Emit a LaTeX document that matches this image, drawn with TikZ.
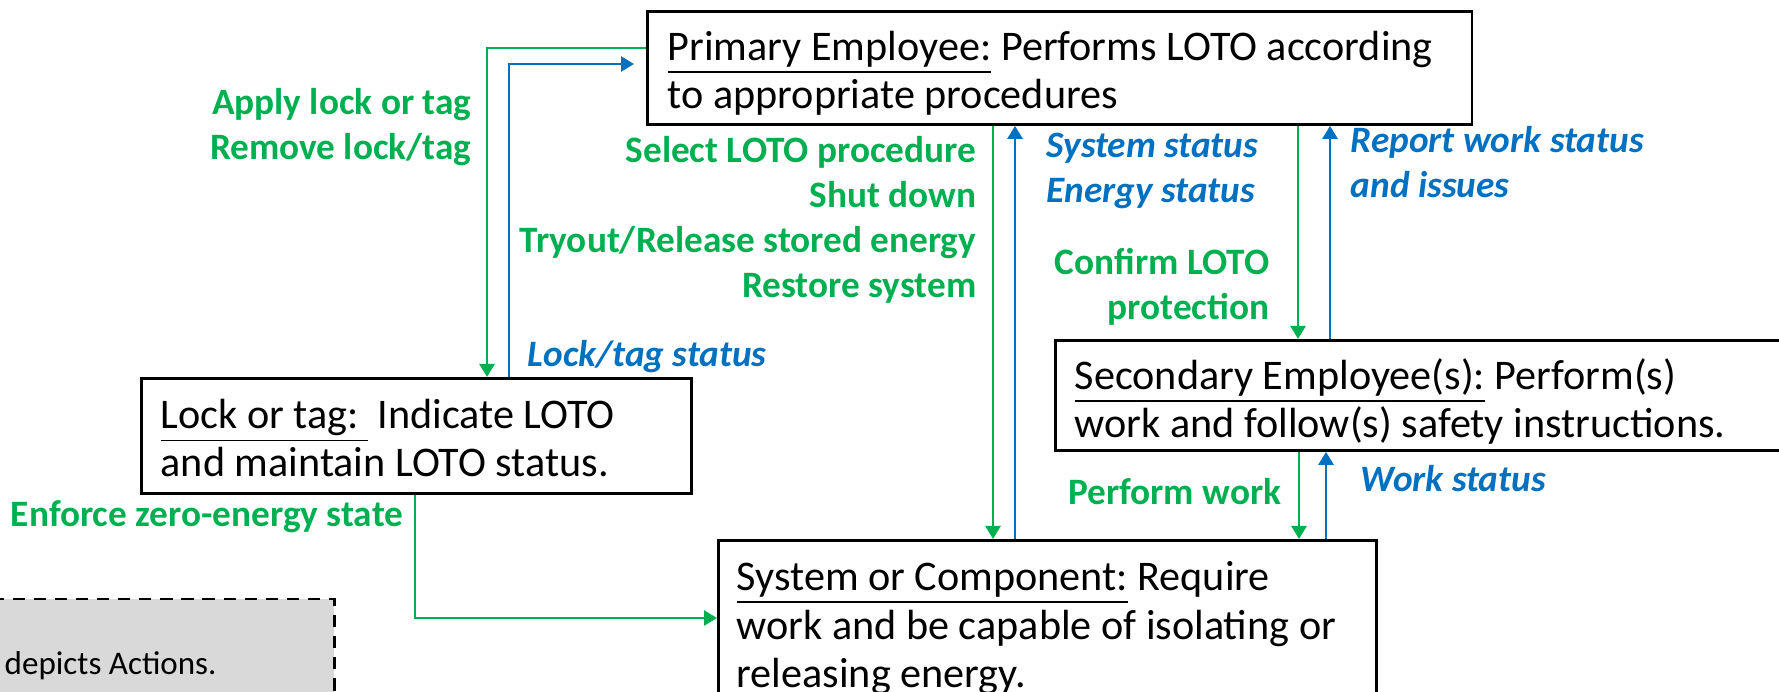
\documentclass[tikz,border=0pt]{standalone}
\usepackage{fontspec}
\setmainfont{Carlito}
\usetikzlibrary{arrows.meta,calc}
\definecolor{ActGreen}{HTML}{00B050}
\definecolor{InfoBlue}{HTML}{0070C0}
\definecolor{KeyGray}{HTML}{D9D9D9}

\newcommand{\boxfont}{\fontsize{12}{13.9}\selectfont}
\newcommand{\labfont}{\fontsize{10.6}{12.8}\selectfont\bfseries}

\begin{document}
\begin{tikzpicture}[x=0.01cm,y=-0.01cm,
    actor/.style={draw,line width=0.8pt,rectangle,inner sep=0pt,anchor=north west},
    actortext/.style={anchor=base west,align=left,inner sep=0pt,font=\boxfont},
    act/.style={ActGreen,line width=0.75pt,-{Triangle[length=1.3mm,width=1.5mm]}},
    info/.style={InfoBlue,line width=0.75pt,-{Triangle[length=1.3mm,width=1.5mm]}},
    actlabel/.style={text=ActGreen,inner sep=0pt,font=\labfont},
    infolabel/.style={text=InfoBlue,inner sep=0pt,font=\labfont\itshape}]
  \clip (0,0) rectangle (1779,692);

  % the four parties (multi-line texts sit on their last baseline)
  \node[actor,minimum width=8.24cm,minimum height=1.13cm] (prim) at (646,10) {};
  \node[actor,minimum width=5.50cm,minimum height=1.15cm] (lock) at (140,377) {};
  \node[actor,minimum width=8.00cm,minimum height=1.10cm] (sec) at (1054,339) {};
  \node[actor,minimum width=6.58cm,minimum height=1.80cm] (sys) at (717,539) {};
  \node[actor,fill=KeyGray,line width=0.7pt,dash pattern=on 3.5pt off 2.5pt,
        minimum width=3.63cm,minimum height=1.50cm] (key) at (-30,598) {};

  \node[actortext] (primtext) at (667,109)
    {\underline{Primary Employee:} Performs LOTO according\\to appropriate procedures};
  \node[actortext] (locktext) at (160,477)
    {\underline{Lock or tag:\ }\ Indicate LOTO\\and maintain LOTO status.};
  \node[actortext] (sectext) at (1074,438)
    {\underline{Secondary Employee(s):} Perform(s)\\work and follow(s) safety instructions.};
  \node[actortext] (systext) at (736,688)
    {\underline{System or Component:} Require\\work and be capable of isolating or\\releasing energy.};
  \node[actortext,font=\fontsize{9.4}{11.3}\selectfont] (keytext) at (4,675) {depicts Actions.};

  % actions (green) and feedback (blue)
  \draw[act] ($(prim.north west)+(0,38)$) -| ($(lock.north west)+(347,0)$);
  \draw[info] ($(lock.north west)+(369,0)$) |- ($(prim.north west)+(-12,54)$);
  \draw[act] ($(lock.south west)+(275,0)$) |- ($(sys.north west)+(0,79)$);
  \draw[act] ($(prim.south west)+(347,0)$) -- ($(sys.north west)+(276,0)$);
  \draw[info] ($(sys.north west)+(298,0)$) -- ($(prim.south west)+(369,0)$);
  \draw[act] ($(prim.south west)+(652,0)$) -- ($(sec.north west)+(244,0)$);
  \draw[info] ($(sec.north west)+(276,0)$) -- ($(prim.south west)+(684,0)$);
  \draw[act] ($(sec.south west)+(245,0)$) -- ($(sys.north west)+(582,0)$);
  \draw[info] ($(sys.north west)+(609,0)$) -- ($(sec.south west)+(272,0)$);

  % connector labels
  \node[actlabel,anchor=base east,align=right] (applylab) at (472,160)
    {Apply lock or tag\\Remove lock/tag};
  \node[actlabel,anchor=base east,align=right] (proclab) at (977,298)
    {Select LOTO procedure\\Shut down\\Tryout/Release stored energy\\Restore system};
  \node[infolabel,anchor=base west,align=left] (syslab) at (1046,203)
    {System status\\Energy status};
  \node[infolabel,anchor=base west,align=left] (reportlab) at (1350,198)
    {Report work status\\and issues};
  \node[actlabel,anchor=base east,align=right] (confirmlab) at (1270,320)
    {Confirm LOTO\\protection};
  \node[infolabel,anchor=base west] (locklab) at (527,367) {Lock/tag status};
  \node[actlabel,anchor=base east] (enforcelab) at (404,527) {Enforce zero-energy state};
  \node[actlabel,anchor=base east] (worklab) at (1282,505) {Perform work};
  \node[infolabel,anchor=base west] (statuslab) at (1360,492) {Work status};
\end{tikzpicture}
\end{document}
